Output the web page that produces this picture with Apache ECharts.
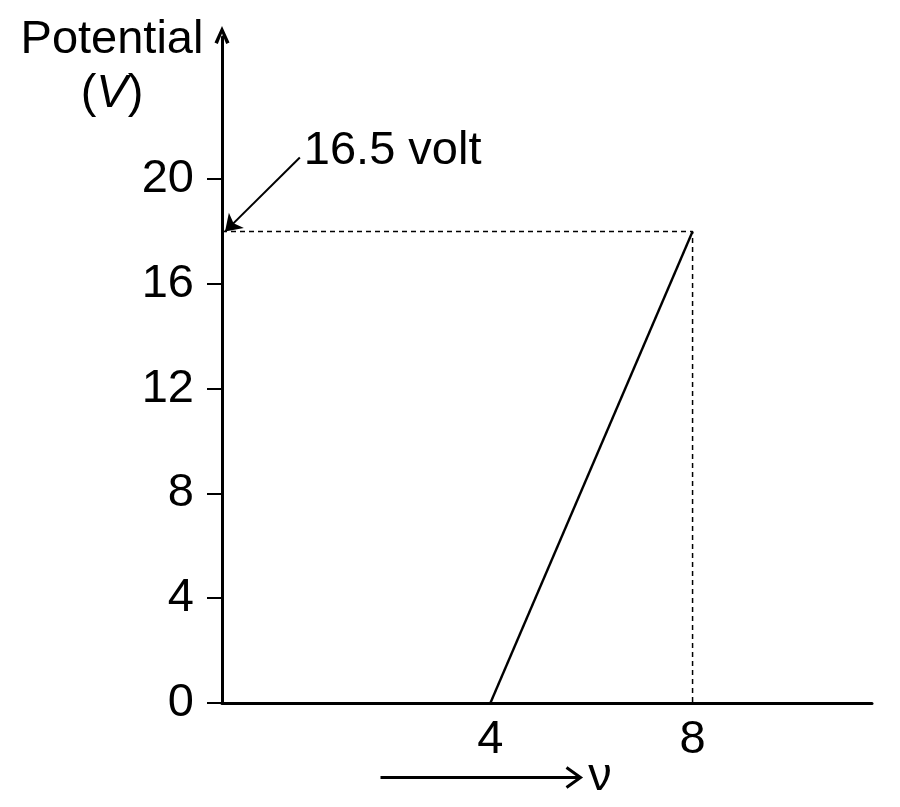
<!DOCTYPE html>
<html>
<head>
<meta charset="utf-8">
<script src="https://cdn.jsdelivr.net/npm/echarts@6/dist/echarts.min.js"></script>
<style>
  html, body { margin: 0; padding: 0; background: #fff; }
  #chart { width: 900px; height: 807px; }
</style>
</head>
<body>
<div id="chart"></div>
<script>
(function () {

  // data
  var xTicks = [4, 8];
  var yTicks = [0, 4, 8, 12, 16, 20];
  var potential = [[4, 0], [8, 18]];          // stopping potential vs frequency
  var guideLevel = 18;                        // dashed guide height
  var guideFreq = 8;
  var pointerFrom = [0.23, 20.83];            // arrow tail (by the note)
  var pointerTo = [-1.25, 18.0];              // arrow head (at the axis)
  var noteText = '16.5 volt';

  var X_MIN = -1.31, X_MAX = 11.55;
  var Y_MIN = 0, Y_MAX = 25.43;
  var FONT = '"Liberation Sans", Arial, sans-serif';
  var SIZE = 47;

  var chart = echarts.init(document.getElementById('chart'));

  var opt = {
    backgroundColor: '#fff',
    animation: false,
    grid: { left: 222, right: 28, top: 37, bottom: 104, containLabel: false, outerBoundsMode: 'none' },
    xAxis: {
      type: 'value',
      min: X_MIN,
      max: X_MAX,
      splitLine: { show: false },
      axisLine: { onZero: false, lineStyle: { color: '#000', width: 3 } },
      axisTick: { show: false },
      axisLabel: {
        customValues: xTicks,
        color: '#000',
        fontFamily: FONT,
        fontSize: SIZE,
        margin: 14
      },
      name: 'ν',
      nameLocation: 'middle',
      nameGap: 51,
      nameMoveOverlap: false,
      nameTextStyle: {
        color: '#000',
        fontFamily: FONT,
        fontSize: SIZE,
        padding: [0, 0, 0, 106]
      }
    },
    yAxis: {
      type: 'value',
      min: Y_MIN,
      max: Y_MAX,
      splitLine: { show: false },
      axisLine: {
        onZero: false,
        lineStyle: { color: '#000', width: 3 },
        symbol: ['none', 'path://M0,11 L5,0 L10,11 L7.8,12 L5,5 L2.2,12 Z'],
        symbolSize: [22, 18],
        symbolOffset: [0, 2]
      },
      axisTick: {
        customValues: yTicks,
        length: 15,
        lineStyle: { color: '#000', width: 2 }
      },
      axisLabel: {
        customValues: yTicks,
        color: '#000',
        fontFamily: FONT,
        fontSize: SIZE,
        margin: 28
      },
      name: 'Potential\n({i|V})',
      nameLocation: 'end',
      nameGap: 24,
      nameMoveOverlap: false,
      nameTextStyle: {
        color: '#000',
        fontFamily: FONT,
        fontSize: SIZE,
        lineHeight: 54,
        align: 'center',
        verticalAlign: 'top',
        padding: [0, 220, 0, 0],
        rich: {
          i: { fontFamily: FONT, fontSize: SIZE, fontStyle: 'italic', color: '#000', lineHeight: 54 }
        }
      }
    },
    series: [{
      name: 'potential',
      type: 'line',
      data: potential,
      symbol: 'none',
      lineStyle: { color: '#000', width: 2.4 }
    }, {
      name: 'guide',
      type: 'line',
      data: [[X_MIN, guideLevel], [guideFreq, guideLevel], [guideFreq, 0]],
      symbol: 'none',
      lineStyle: { color: '#000', width: 1.5, type: [5, 4] },
      markLine: {
        silent: true,
        symbol: ['none', 'arrow'],
        symbolSize: 16,
        label: { show: false },
        lineStyle: { color: '#000', width: 2, type: 'solid' },
        data: [[{ coord: pointerFrom }, { coord: pointerTo }]]
      }
    }, {
      name: 'note',
      type: 'scatter',
      data: [pointerFrom],
      symbolSize: 0,
      itemStyle: { opacity: 1, color: '#000' },
      label: {
        show: true,
        position: 'right',
        distance: 4,
        offset: [0, -6],
        formatter: noteText,
        color: '#000',
        fontFamily: FONT,
        fontSize: SIZE
      }
    }],
    graphic: [{
      type: 'group',
      left: 378,
      top: 765,
      children: [{
        type: 'line',
        shape: { x1: 0, y1: 10, x2: 198, y2: 10 },
        style: { stroke: '#000', lineWidth: 3 }
      }, {
        type: 'polyline',
        shape: { points: [[186, 0], [200, 10], [186, 20]] },
        style: { stroke: '#000', lineWidth: 3, fill: null }
      }]
    }]
  };

  chart.setOption(opt);
})();
</script>
</body>
</html>
